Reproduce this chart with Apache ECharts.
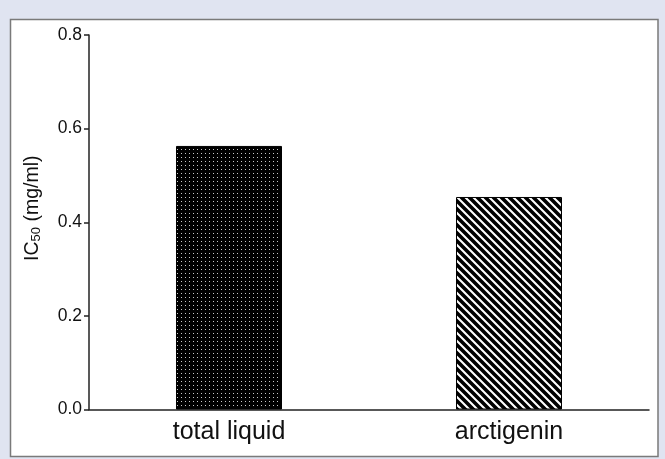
<!DOCTYPE html>
<html>
<head>
<meta charset="utf-8">
<script src="https://cdn.jsdelivr.net/npm/echarts@6/dist/echarts.min.js"></script>
<style>
html,body{margin:0;padding:0;background:#E0E4F1;}
#chart{width:665px;height:459px;}
</style>
</head>
<body>
<div id="chart"></div>
<script>
const categories = ['total liquid', 'arctigenin'];
const values = [0.563, 0.454];
const yTicks = [0.0, 0.2, 0.4, 0.6, 0.8];

function dotPattern() {
  const c = document.createElement('canvas');
  c.width = 4; c.height = 4;
  const g = c.getContext('2d');
  g.fillStyle = '#000'; g.fillRect(0, 0, 4, 4);
  g.fillStyle = '#c8c8c8'; g.fillRect(1, 1, 1, 1);
  return c;
}
function stripePattern() {
  const s = 8;
  const c = document.createElement('canvas');
  c.width = s; c.height = s;
  const g = c.getContext('2d');
  g.fillStyle = '#fff'; g.fillRect(0, 0, s, s);
  g.strokeStyle = '#000'; g.lineWidth = 3.6;
  g.beginPath();
  g.moveTo(-2, -2); g.lineTo(s + 2, s + 2);
  g.moveTo(-2, s - 2); g.lineTo(2, s + 2);
  g.moveTo(s - 2, -2); g.lineTo(s + 2, 2);
  g.stroke();
  return c;
}

const chart = echarts.init(document.getElementById('chart'), null, {renderer: 'canvas'});
const fills = [
  {image: dotPattern(), repeat: 'repeat'},
  {image: stripePattern(), repeat: 'repeat'}
];
const font = 'Liberation Sans, Arial, sans-serif';
chart.setOption({
  backgroundColor: '#E0E4F1',
  animation: false,
  graphic: [{
    type: 'rect', z: -10, silent: true,
    shape: {x: 10.5, y: 19.5, width: 647.5, height: 437},
    style: {fill: '#fff', stroke: '#7a7a7a', lineWidth: 1.5}
  }],
  grid: {left: 89, right: 16, top: 35, bottom: 49.5},
  xAxis: {
    type: 'category',
    data: categories,
    axisLine: {lineStyle: {color: '#222', width: 1.5}},
    axisTick: {alignWithLabel: true, length: 6, lineStyle: {color: '#222', width: 1.5}},
    axisLabel: {fontFamily: font, fontSize: 25, color: '#111', margin: 10}
  },
  yAxis: {
    type: 'value',
    min: 0, max: 0.8, interval: 0.2,
    name: '{a|IC}{s|50}{a| (mg/ml)}',
    nameLocation: 'middle',
    nameGap: 46,
    nameRotate: 90,
    nameTextStyle: {
      padding: [0, 0, 0, 28],
      rich: {
        a: {fontFamily: font, fontSize: 19.5, color: '#111'},
        s: {fontFamily: font, fontSize: 13, color: '#111', verticalAlign: 'bottom', padding: [8, 0, 0, 0]}
      }
    },
    splitLine: {show: false},
    axisLine: {show: true, lineStyle: {color: '#222', width: 1.5}},
    axisTick: {show: true, length: 5, lineStyle: {color: '#222', width: 1.5}},
    axisLabel: {
      fontFamily: font, fontSize: 17.5, color: '#111', margin: 7,
      formatter: v => yTicks.includes(Math.round(v * 10) / 10) ? v.toFixed(1) : ''
    }
  },
  series: [{
    type: 'bar',
    barWidth: 106,
    data: values.map((v, i) => ({value: v, itemStyle: {color: fills[i], borderColor: '#000', borderWidth: 1}}))
  }]
});
</script>
</body>
</html>
